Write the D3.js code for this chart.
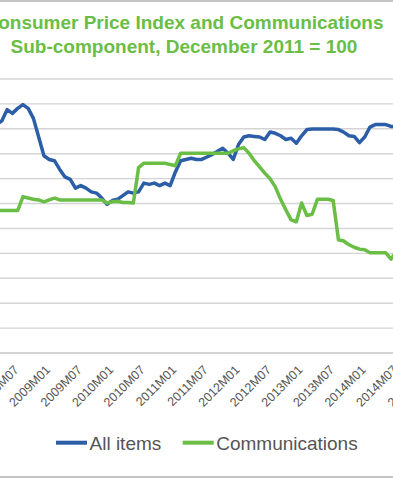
<!DOCTYPE html>
<html>
<head>
<meta charset="utf-8">
<script src="https://cdn.jsdelivr.net/npm/d3@7"></script>
<style>
  html, body { margin: 0; padding: 0; background: #fff; }
  svg { display: block; font-family: 'Liberation Sans', Arial, sans-serif; }
</style>
</head>
<body>
<div id="chart"></div>
<script>
const WIDTH = 393;
const HEIGHT = 480;

const BLUE = '#2c5ea8';
const GREEN = '#6abd45';
const TEXT = '#555555';

// monthly categories, 2008M01 .. 2015M01
const START_YEAR = 2008;
const MONTH_COUNT = 85;
const months = d3.range(MONTH_COUNT).map(i =>
  `${START_YEAR + Math.floor(i / 12)}M${String(i % 12 + 1).padStart(2, '0')}`);

const tickLabels = [
  '2008M01', '2008M07', '2009M01', '2009M07', '2010M01', '2010M07',
  '2011M01', '2011M07', '2012M01', '2012M07', '2013M01', '2013M07',
  '2014M01', '2014M07', '2015M01'
];

const yTicks = [84, 86, 88, 90, 92, 94, 96, 98, 100, 102, 104, 106];

const seriesNames = ['All items', 'Communications'];

const allItems = [
  100.9, 101.5, 102.0, 102.3, 102.6, 103.5, 103.2, 103.6, 103.9, 103.6, 102.8, 101.3,
  99.8, 99.5, 99.4, 98.7, 98.1, 97.9, 97.2, 97.4, 97.2, 96.9, 96.8, 96.4,
  95.9, 96.2, 96.3, 96.6, 96.9, 96.8, 96.9, 97.6, 97.5, 97.6, 97.4, 97.6,
  97.4, 98.5, 99.4, 99.5, 99.6, 99.5, 99.5, 99.7, 99.9, 100.15, 100.4, 100.0,
  99.5, 100.7, 101.3, 101.4, 101.35, 101.3, 101.1, 101.7, 101.6, 101.4, 101.1, 101.2,
  100.8, 101.4, 101.9, 101.95, 101.95, 101.95, 101.95, 101.95, 101.9, 101.7, 101.4, 101.35,
  100.85, 101.3, 102.1, 102.3, 102.3, 102.3, 102.15, 102.15, 102.0, 101.8, 101.7, 101.6,
  100.9
];

const communications = [
  95.4, 95.4, 95.4, 95.4, 95.4, 95.4, 95.4, 95.4, 96.5, 96.4, 96.3, 96.25,
  96.1, 96.25, 96.4, 96.25, 96.25, 96.25, 96.25, 96.25, 96.25, 96.25, 96.25, 96.25,
  96.0, 96.1, 96.15, 96.05, 96.05, 96.0, 98.85, 99.2, 99.2, 99.2, 99.2, 99.2,
  99.1, 99.0, 100.0, 100.0, 100.0, 100.0, 100.0, 100.0, 100.0, 100.0, 100.0, 100.0,
  100.2, 100.35, 100.45, 100.0, 99.4, 98.9, 98.4, 97.95, 97.3, 96.3, 95.45, 94.65,
  94.5, 96.0, 95.0, 95.1, 96.3, 96.3, 96.3, 96.2, 93.05, 92.95, 92.65, 92.45,
  92.3, 92.25, 92.0, 92.0, 92.0, 92.0, 91.5, 92.1, 92.1, 92.1, 92.0, 92.0,
  91.8
];

function translate(x, y) {
  return `translate(${x}, ${y})`;
}

// the picture is a crop of a wider chart: the plot runs off both sides
const plot = {left: -21.8, right: 425.2, top: 78.5, bottom: 352.5};

const svg = d3.select('#chart').append('svg')
  .attr('width', WIDTH)
  .attr('height', HEIGHT);

svg.append('rect')
  .attr('width', WIDTH)
  .attr('height', HEIGHT)
  .attr('fill', '#fff');

// chart area border
svg.append('rect')
  .attr('x', -100)
  .attr('y', 1)
  .attr('width', 600)
  .attr('height', 476)
  .attr('fill', 'none')
  .attr('stroke', '#c4c4c4')
  .attr('stroke-width', 2);

// title
const title = svg.append('text')
  .attr('text-anchor', 'middle')
  .attr('font-size', 19)
  .attr('font-weight', 'bold')
  .attr('fill', GREEN);
title.append('tspan').attr('x', 184).attr('y', 29.3)
  .text('Consumer Price Index and Communications');
title.append('tspan').attr('x', 184).attr('y', 53.3)
  .text('Sub-component, December 2011 = 100');

const x = d3.scalePoint()
  .domain(months)
  .range([plot.left, plot.right])
  .padding(0.5);

const y = d3.scaleLinear()
  .domain([84, 106])
  .range([plot.bottom, plot.top]);

// gridlines (value labels sit left of the crop)
const yAxis = d3.axisLeft(y)
  .tickValues(yTicks)
  .tickSize(-(plot.right - plot.left))
  .tickPadding(8);

const yg = svg.append('g')
  .attr('transform', translate(plot.left, 0))
  .call(yAxis)
  .attr('font-family', null)
  .attr('font-size', 12.5);
yg.select('.domain').remove();
yg.selectAll('.tick line')
  .attr('stroke', '#d4d4d4')
  .attr('stroke-width', 1.4);
yg.selectAll('.tick text').attr('fill', TEXT);

// category axis
const xAxis = d3.axisBottom(x)
  .tickValues(tickLabels)
  .tickSize(0)
  .tickPadding(0);

const xg = svg.append('g')
  .attr('transform', translate(0, plot.bottom))
  .call(xAxis)
  .attr('font-family', null)
  .attr('font-size', 12.5);
xg.select('.domain')
  .attr('stroke', '#cfcfcf')
  .attr('stroke-width', 1.5);
xg.selectAll('.tick text')
  .attr('fill', TEXT)
  .attr('text-anchor', 'end')
  .attr('y', 0)
  .attr('dy', '0.35em')
  .attr('transform', 'translate(3.5, 15) rotate(-45)');

// series
const line = d3.line()
  .x((d, i) => x(months[i]))
  .y(d => y(d));

[[allItems, BLUE], [communications, GREEN]].forEach(([values, colour]) => {
  svg.append('path')
    .datum(values)
    .attr('fill', 'none')
    .attr('stroke', colour)
    .attr('stroke-width', 3.5)
    .attr('stroke-linejoin', 'round')
    .attr('d', line);
});

// legend
const legendItems = [
  {name: seriesNames[0], colour: BLUE, x: 56},
  {name: seriesNames[1], colour: GREEN, x: 182.7}
];

const legend = svg.append('g').attr('transform', translate(0, 442.7));
legendItems.forEach(item => {
  legend.append('line')
    .attr('x1', item.x)
    .attr('x2', item.x + 31)
    .attr('stroke', item.colour)
    .attr('stroke-width', 4);
  legend.append('text')
    .attr('x', item.x + 33.5)
    .attr('y', 7.3)
    .attr('font-size', 19)
    .attr('fill', TEXT)
    .text(item.name);
});
</script>
</body>
</html>
